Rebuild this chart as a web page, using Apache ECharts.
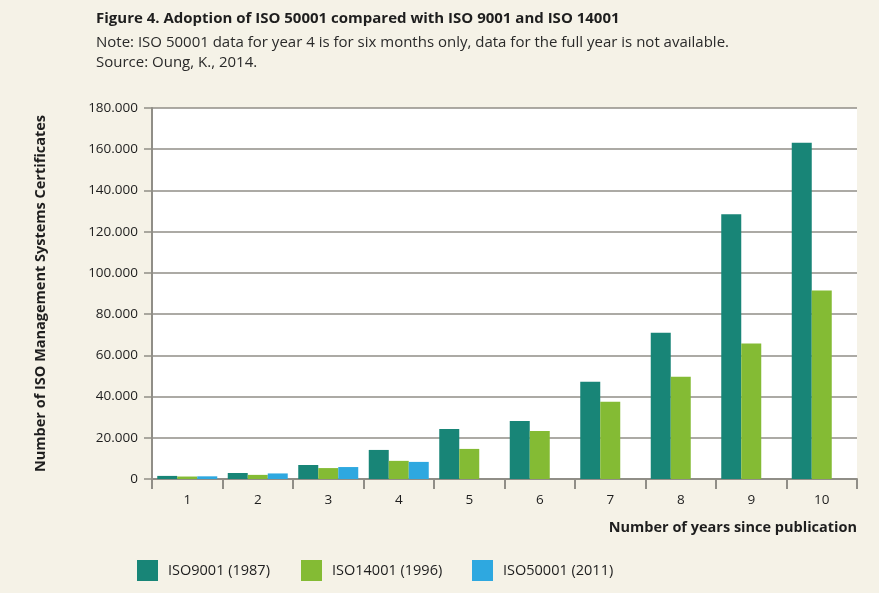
<!DOCTYPE html>
<html><head><meta charset="utf-8">
<script src="https://cdn.jsdelivr.net/npm/echarts@6/dist/echarts.min.js"></script>
<style>html,body{margin:0;padding:0;background:#f5f2e7;}#c{width:879px;height:593px;}</style>
</head><body><div id="c"></div>
<script>
var categories = ['1','2','3','4','5','6','7','8','9','10'];
var iso9001 = [1500, 2900, 6800, 14100, 24300, 28200, 47200, 71000, 128400, 163200];
var iso14001 = [1200, 2000, 5300, 8800, 14600, 23300, 37500, 49600, 65700, 91400];
var iso50001 = [1300, 2700, 5800, 8300, null, null, null, null, null, null];
var yTicks = [0, 20000, 40000, 60000, 80000, 100000, 120000, 140000, 160000, 180000];
var seriesNames = ['ISO9001 (1987)', 'ISO14001 (1996)', 'ISO50001 (2011)'];
var colors = ['#188577', '#84bb34', '#2ea8e0'];

var FONT = 'Open Sans';
function fmt(v){ return v === 0 ? '0' : String(v).replace(/\B(?=(\d{3})+(?!\d))/g, '.'); }

var chart = echarts.init(document.getElementById('c'), null, {renderer:'canvas'});
var legendPos = [137, 301, 472];
chart.setOption({
  backgroundColor: '#f5f2e7',
  textStyle: {fontFamily: FONT},
  title: [
    {text: 'Figure 4. Adoption of ISO 50001 compared with ISO 9001 and ISO 14001', left: 96, top: 11, padding: 0,
     textStyle: {fontFamily: FONT, fontSize: 15, fontWeight: 'bold', color: '#1e1e1e'}},
    {text: 'Note: ISO 50001 data for year 4 is for six months only, data for the full year is not available.\nSource: Oung, K., 2014.',
     left: 96, top: 33, padding: 0, textStyle: {fontFamily: FONT, fontSize: 15, fontWeight: 'normal', color: '#2a2a2a', lineHeight: 20}}
  ],
  legend: seriesNames.map(function(n, i){
    return {data: [n], left: legendPos[i], top: 560, padding: 0, itemWidth: 21, itemHeight: 21, itemGap: 10, icon: 'rect',
      selectedMode: false, textStyle: {fontFamily: FONT, fontSize: 14.5, color: '#1e1e1e', padding: [0, 0, 0, 5]}};
  }),
  grid: {left: 152, right: 22, top: 108, bottom: 114, containLabel: false, show: true, backgroundColor: '#ffffff', borderWidth: 0},
  xAxis: {
    type: 'category', data: categories,
    name: 'Number of years since publication', nameLocation: 'end',
    nameGap: 0,
    nameTextStyle: {fontFamily: FONT, fontSize: 14.5, fontWeight: 'bold', color: '#1e1e1e', align: 'right', verticalAlign: 'top', padding: [41, 0, 0, 0]},
    axisLine: {lineStyle: {color: '#908e87', width: 2}},
    axisTick: {show: true, length: 10, lineStyle: {color: '#908e87', width: 2}, alignWithLabel: false},
    axisLabel: {margin: 14, fontSize: 13.5, color: '#1e1e1e', fontFamily: FONT}
  },
  yAxis: {
    type: 'value', min: 0, max: 180000, interval: 20000,
    name: 'Number of ISO Management Systems Certificates', nameLocation: 'middle', nameGap: 104, nameRotate: 90,
    nameTextStyle: {fontFamily: FONT, fontSize: 14.5, fontWeight: 'bold', color: '#1e1e1e'},
    axisLine: {show: true, lineStyle: {color: '#908e87', width: 2}},
    axisTick: {show: true, length: 8, lineStyle: {color: '#908e87', width: 1.5}},
    splitLine: {show: true, lineStyle: {color: '#908e87', width: 1.5}},
    axisLabel: {margin: 14, fontSize: 13.5, color: '#1e1e1e', fontFamily: FONT,
      formatter: function(v){ return yTicks.indexOf(v) >= 0 ? fmt(v) : ''; }}
  },
  series: [
    {name: seriesNames[0], type: 'bar', data: iso9001, barWidth: 20, barGap: '0%', itemStyle: {color: colors[0]}},
    {name: seriesNames[1], type: 'bar', data: iso14001, barWidth: 20, barGap: '0%', itemStyle: {color: colors[1]}},
    {name: seriesNames[2], type: 'bar', data: iso50001, barWidth: 20, barGap: '0%', itemStyle: {color: colors[2]}}
  ],
  animation: false
});
</script></body></html>
